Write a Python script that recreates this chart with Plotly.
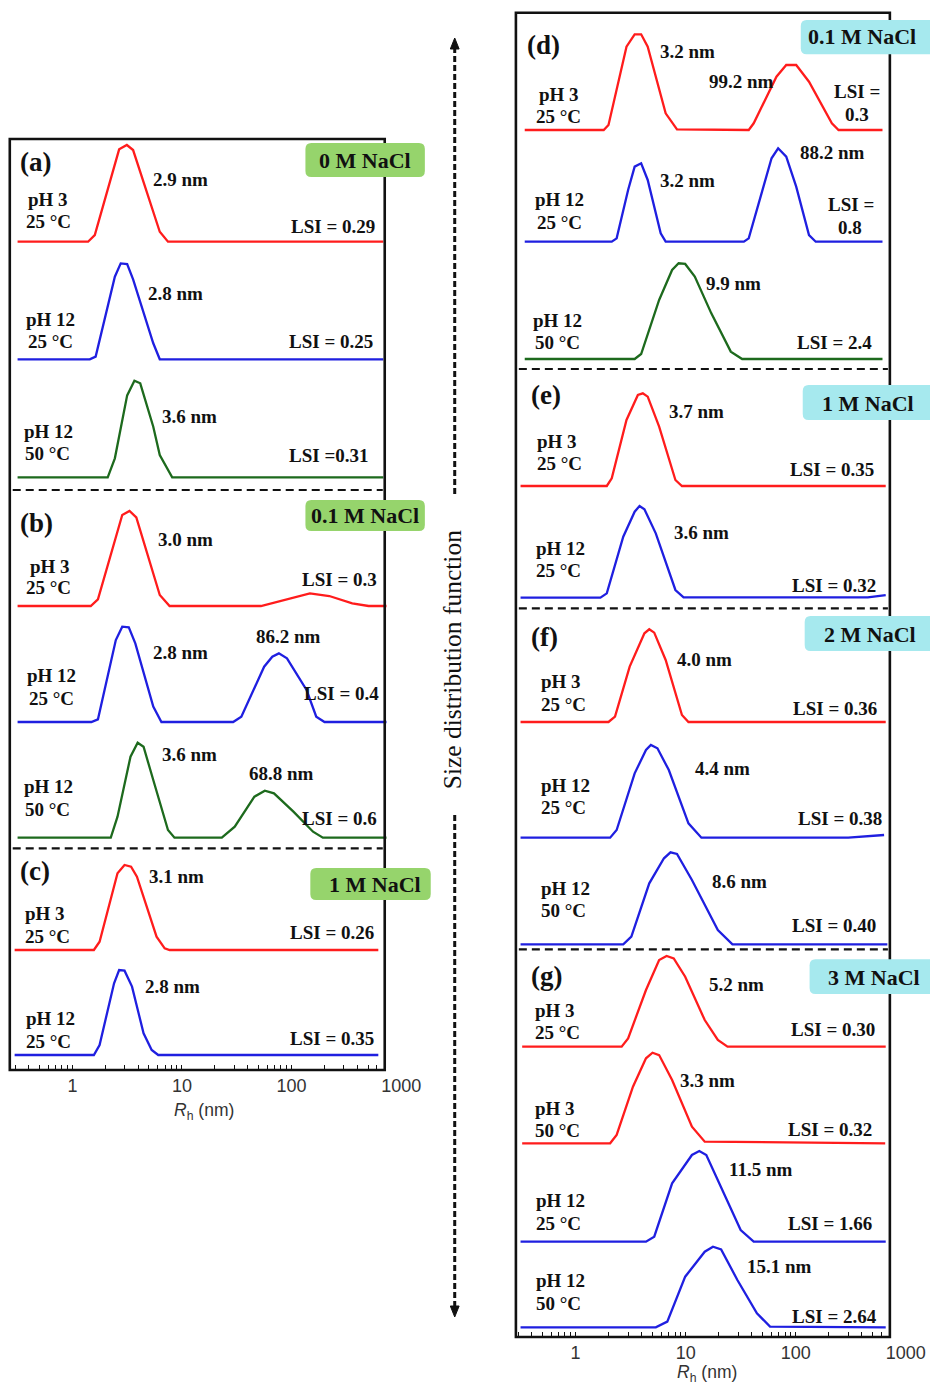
import math
import plotly.graph_objects as go

W, H = 950, 1386

# ---------------- data: hydrodynamic radius Rh (nm) and relative size distribution ----------------
# (a) 0 M NaCl
a_red_rh = [0.316, 1.39, 1.60, 2.67, 3.14, 3.58, 6.27, 7.45, 687]
a_red_y = [0, 0, 0.069, 0.955, 1, 0.948, 0.103, 0, 0]
a_blue_rh = [0.316, 1.44, 1.63, 2.44, 2.76, 3.16, 3.58, 5.47, 6.27, 687]
a_blue_y = [0, 0, 0.028, 0.855, 0.993, 0.986, 0.828, 0.166, 0, 0]
a_green_rh = [0.316, 2.10, 2.44, 3.16, 3.68, 4.16, 5.47, 6.27, 8.14, 687]
a_green_y = [0, 0, 0.195, 0.842, 0.993, 0.966, 0.52, 0.229, 0, 0]
# (b) 0.1 M NaCl
b_red_rh = [0.316, 1.47, 1.71, 2.85, 3.32, 3.83, 6.27, 7.71, 52.5, 84.8, 147, 221, 358, 504, 735]
b_red_y = [0, 0, 0.070, 0.958, 1, 0.933, 0.116, 0, 0, 0.063, 0.133, 0.105, 0.028, 0, 0]
b_blue_rh = [0.316, 1.49, 1.71, 2.49, 2.85, 3.27, 3.75, 5.47, 6.49, 29.3, 34.8, 56.2, 66.7, 76.6, 90.8, 137, 168, 200, 735]
b_blue_y = [0, 0, 0.028, 0.860, 1, 0.993, 0.825, 0.161, 0, 0, 0.056, 0.580, 0.685, 0.720, 0.668, 0.336, 0.056, 0, 0]
b_green_rh = [0.316, 2.24, 2.58, 3.39, 3.94, 4.46, 5.47, 7.45, 8.54, 23.1, 30.3, 45.8, 57.0, 69.1, 104, 157, 193, 735]
b_green_y = [0, 0, 0.221, 0.853, 1, 0.958, 0.607, 0.081, 0, 0, 0.116, 0.432, 0.495, 0.467, 0.274, 0.063, 0, 0]
# (c) 1 M NaCl
c_red_rh = [0.297, 1.57, 1.77, 2.58, 2.99, 3.43, 3.88, 5.86, 6.95, 7.71, 619]
c_red_y = [0, 0, 0.098, 0.902, 1, 0.98, 0.863, 0.157, 0.02, 0, 0]
c_blue_rh = [0.297, 1.57, 1.77, 2.40, 2.67, 2.99, 3.50, 4.46, 5.29, 6.07, 619]
c_blue_y = [0, 0, 0.117, 0.837, 0.992, 0.984, 0.798, 0.253, 0.058, 0, 0]
# (d) 0.1 M NaCl
d_red_rh = [0.345, 1.80, 1.99, 2.90, 3.44, 3.94, 4.52, 6.58, 8.34, 37.4, 41.5, 66.8, 82.0, 101, 132, 213, 245, 614]
d_red_y = [0, 0, 0.052, 0.871, 1, 1, 0.871, 0.174, 0.007, 0, 0.07, 0.557, 0.679, 0.679, 0.505, 0.07, 0, 0]
d_blue_rh = [0.345, 2.13, 2.36, 3.00, 3.44, 3.94, 4.52, 5.93, 6.58, 33.8, 37.4, 54.5, 60.3, 69.2, 82.0, 101, 132, 152, 614]
d_blue_y = [0, 0, 0.036, 0.554, 0.804, 0.839, 0.661, 0.089, 0, 0, 0.036, 0.732, 0.893, 1, 0.911, 0.589, 0.071, 0, 0]
d_green_rh = [0.345, 3.44, 3.94, 5.74, 7.53, 8.63, 9.90, 12.1, 17.1, 25.7, 32.6, 614]
d_green_y = [0, 0, 0.052, 0.617, 0.930, 1, 0.993, 0.861, 0.477, 0.077, 0, 0]
# (e) 1 M NaCl
e_red_rh = [0.316, 1.92, 2.13, 2.90, 3.68, 4.08, 4.52, 5.74, 8.07, 9.25, 657]
e_red_y = [0, 0, 0.083, 0.712, 0.982, 1, 0.964, 0.640, 0.065, 0, 0]
e_blue_rh = [0.316, 1.68, 1.92, 2.71, 3.44, 3.81, 4.22, 5.35, 8.07, 9.57, 452, 657]
e_blue_y = [0, 0, 0.047, 0.665, 0.938, 1, 0.964, 0.702, 0.084, 0.004, 0.004, 0.029]
# (f) 2 M NaCl
f_red_rh = [0.316, 1.99, 2.28, 3.10, 4.22, 4.67, 5.18, 6.58, 9.25, 10.6, 657]
f_red_y = [0, 0, 0.058, 0.597, 0.957, 1, 0.964, 0.669, 0.076, 0, 0]
f_blue25_rh = [0.316, 2.06, 2.36, 3.44, 4.36, 4.83, 5.54, 7.03, 10.6, 13.9, 300, 635]
f_blue25_y = [0, 0, 0.083, 0.694, 0.946, 1, 0.964, 0.730, 0.155, 0, 0, 0.029]
f_blue50_rh = [0.316, 2.71, 3.21, 4.67, 6.35, 7.28, 8.34, 11.4, 19.6, 26.6, 680]
f_blue50_y = [0, 0, 0.083, 0.663, 0.935, 1, 0.982, 0.699, 0.156, 0, 0]
# (g) 3 M NaCl
g_red25_rh = [0.327, 2.62, 3.00, 4.36, 5.74, 6.71, 7.79, 9.90, 14.9, 19.6, 24.0, 657]
g_red25_y = [0, 0, 0.092, 0.625, 0.956, 1, 0.974, 0.772, 0.294, 0.074, 0, 0]
g_red50_rh = [0.327, 2.06, 2.36, 3.32, 4.36, 5.00, 5.74, 7.53, 11.4, 14.9, 650]
g_red50_y = [0, 0, 0.092, 0.625, 0.938, 1, 0.974, 0.699, 0.184, 0.018, 0]
g_blue25_rh = [0.316, 4.36, 5.18, 7.53, 11.4, 13.3, 15.4, 21.0, 31.6, 41.5, 657]
g_blue25_y = [0, 0, 0.055, 0.643, 0.956, 1, 0.956, 0.607, 0.129, 0, 0]
g_blue50_rh = [0.316, 5.35, 6.81, 9.90, 14.9, 17.7, 21.0, 29.5, 44.4, 58.4, 657]
g_blue50_y = [0, 0, 0.070, 0.628, 0.938, 1, 0.967, 0.587, 0.174, 0.008, 0]

major_ticks = [1, 10, 100, 1000]
major_labels = ["1", "10", "100", "1000"]
minor_left = [0.3, 0.4, 0.5, 0.6, 0.7, 0.8, 0.9, 1, 2, 3, 4, 5, 6, 7, 8, 9, 10,
              20, 30, 40, 50, 60, 70, 80, 90, 100, 200, 300, 400, 500, 600]
minor_right = minor_left

salt_labels = ["0 M NaCl", "0.1 M NaCl", "1 M NaCl", "0.1 M NaCl", "1 M NaCl", "2 M NaCl", "3 M NaCl"]

RED, BLUE, GREEN = "#ff1c1c", "#1f1fe0", "#1d6a1d"

def px(x):
    return x / W

def py(y):
    return 1 - y / H

# (rh, y, panel, color, baseline px, peak-top px)
curves = [
    (a_red_rh, a_red_y, 0, RED, 241.7, 145.0),
    (a_blue_rh, a_blue_y, 0, BLUE, 359.3, 262.7),
    (a_green_rh, a_green_y, 0, GREEN, 477.3, 380.0),
    (b_red_rh, b_red_y, 0, RED, 606.0, 511.0),
    (b_blue_rh, b_blue_y, 0, BLUE, 722.0, 626.7),
    (b_green_rh, b_green_y, 0, GREEN, 837.7, 742.7),
    (c_red_rh, c_red_y, 0, RED, 950.0, 865.0),
    (c_blue_rh, c_blue_y, 0, BLUE, 1055.0, 969.3),
    (d_red_rh, d_red_y, 1, RED, 130.0, 34.3),
    (d_blue_rh, d_blue_y, 1, BLUE, 241.7, 148.3),
    (d_green_rh, d_green_y, 1, GREEN, 359.0, 263.3),
    (e_red_rh, e_red_y, 1, RED, 486.0, 393.3),
    (e_blue_rh, e_blue_y, 1, BLUE, 597.7, 506.0),
    (f_red_rh, f_red_y, 1, RED, 722.0, 629.3),
    (f_blue25_rh, f_blue25_y, 1, BLUE, 837.7, 745.0),
    (f_blue50_rh, f_blue50_y, 1, BLUE, 944.3, 852.3),
    (g_red25_rh, g_red25_y, 1, RED, 1046.7, 956.0),
    (g_red50_rh, g_red50_y, 1, RED, 1143.3, 1052.7),
    (g_blue25_rh, g_blue25_y, 1, BLUE, 1241.7, 1151.0),
    (g_blue50_rh, g_blue50_y, 1, BLUE, 1327.3, 1246.7),
]

fig = go.Figure()
axes = {}
pad = 0.12
for i, (rh, val, panel, color, base, top) in enumerate(curves, start=1):
    yname = "y" if i == 1 else f"y{i}"
    key = "yaxis" if i == 1 else f"yaxis{i}"
    xname = "x" if panel == 0 else "x2"
    h = base - top
    axes[key] = dict(domain=[py(base + pad * h), py(top - pad * h)], range=[-pad, 1 + pad],
                     visible=False, fixedrange=True, anchor=xname)
    fig.add_trace(go.Scatter(x=rh, y=val, xaxis=xname, yaxis=yname, mode="lines",
                             line=dict(color=color, width=2.3), hoverinfo="skip", showlegend=False))

tickfont = dict(family="Liberation Sans, Arial", size=18, color="#333")

def xaxis_cfg(x0px, x1px, lo, pos_px, minor_vals):
    return dict(type="log", domain=[px(x0px), px(x1px)], range=[lo, 3.002], anchor="free",
                position=py(pos_px), showgrid=False, zeroline=False, showline=False,
                ticks="", tickmode="array", tickvals=major_ticks, ticktext=major_labels,
                tickfont=tickfont, ticklabelstandoff=3, fixedrange=True,
                minor=dict(tickmode="array", tickvals=minor_vals, ticks="inside",
                           ticklen=5, tickwidth=1.4, tickcolor="#111", showgrid=False))

axes["xaxis"] = xaxis_cfg(10, 410, math.log10(0.2683), 1070, minor_left)
axes["xaxis2"] = xaxis_cfg(527, 925.5, math.log10(0.2868), 1337, minor_right)

fig.update_layout(height=H, autosize=True, margin=dict(l=0, r=0, t=0, b=0),
                  plot_bgcolor="rgba(0,0,0,0)", paper_bgcolor="white", showlegend=False, **axes)

shapes = []

def line(x0, y0, x1, y1, color="#111", width=2.5, dash="solid"):
    shapes.append(dict(type="line", xref="paper", yref="paper", x0=px(x0), y0=py(y0),
                       x1=px(x1), y1=py(y1), line=dict(color=color, width=width, dash=dash),
                       layer="above"))

# frames
for (x0, y0, x1, y1) in [(10, 139, 393, 1070), (527, 12.7, 909, 1337)]:
    shapes.append(dict(type="rect", xref="paper", yref="paper", x0=px(x0), y0=py(y0),
                       x1=px(x1), y1=py(y1), line=dict(color="#111", width=2.6),
                       fillcolor="rgba(0,0,0,0)", layer="above"))

# dashed separators
for y in [490, 848.3]:
    line(13, y, 391, y, width=2.2, dash="8px,5px")
for y in [369, 608.3, 949.3]:
    line(530, y, 907, y, width=2.2, dash="8px,5px")

# central double arrow
line(464.5, 47, 464.5, 495, width=3, dash="6px,3px")
line(464.5, 815, 464.5, 1308, width=3, dash="6px,3px")

def tri(pts):
    d = "M " + " L ".join(f"{px(x)},{py(y)}" for x, y in pts) + " Z"
    shapes.append(dict(type="path", xref="paper", yref="paper", path=d,
                       fillcolor="#111", line=dict(color="#111", width=1), layer="above"))

tri([(464.5, 38), (460, 49), (469, 49)])
tri([(464.5, 1317), (460, 1306), (469, 1306)])

# rounded label boxes (boxes that run off the right edge are cut square at the edge)
def rbox(x0, y0, x1, y1, color, r=6):
    if x1 >= W:
        x1 = W
        d = (f"M {px(x0 + r)},{py(y0)} L {px(x1)},{py(y0)} L {px(x1)},{py(y1)} "
             f"L {px(x0 + r)},{py(y1)} Q {px(x0)},{py(y1)} {px(x0)},{py(y1 - r)} "
             f"L {px(x0)},{py(y0 + r)} Q {px(x0)},{py(y0)} {px(x0 + r)},{py(y0)} Z")
    else:
        d = (f"M {px(x0 + r)},{py(y0)} L {px(x1 - r)},{py(y0)} Q {px(x1)},{py(y0)} {px(x1)},{py(y0 + r)} "
             f"L {px(x1)},{py(y1 - r)} Q {px(x1)},{py(y1)} {px(x1 - r)},{py(y1)} "
             f"L {px(x0 + r)},{py(y1)} Q {px(x0)},{py(y1)} {px(x0)},{py(y1 - r)} "
             f"L {px(x0)},{py(y0 + r)} Q {px(x0)},{py(y0)} {px(x0 + r)},{py(y0)} Z")
    shapes.append(dict(type="path", xref="paper", yref="paper", path=d, fillcolor=color,
                       line=dict(width=0), layer="above"))

GBOX, CBOX = "#96d46c", "#a6e9ee"
boxes = [
    (312, 143, 434, 177, GBOX, 373, 160),
    (312, 500, 434, 531, GBOX, 373, 515.5),
    (317, 868, 440, 900, GBOX, 383.5, 884),
    (818, 20, 960, 54.3, CBOX, 881, 37),
    (820, 385, 960, 420, CBOX, 886.5, 403),
    (822, 616, 960, 651, CBOX, 889, 634),
    (827, 959.3, 960, 994, CBOX, 893, 977.5),
]
annotations = []
SERIF = "Liberation Serif, Times New Roman, serif"

def text(t, x, y, anchor="left", size=19, bold=True, family=SERIF, color="#111", angle=0):
    annotations.append(dict(text=(f"<b>{t}</b>" if bold else t), x=px(x), y=py(y), xref="paper",
                            yref="paper", xanchor=anchor, yanchor="middle", showarrow=False,
                            font=dict(family=family, size=size, color=color), textangle=angle))

for (x0, y0, x1, y1, col, tx, ty), lab in zip(boxes, salt_labels):
    rbox(x0, y0, x1, y1, col)
    text(lab, tx, ty, anchor="center", size=22)

# panel letters
for t, x, y in [("(a)", 18.3, 161.7), ("(b)", 18.3, 523.3), ("(c)", 18.3, 870.7),
                ("(d)", 536.7, 45), ("(e)", 540.7, 395), ("(f)", 540.7, 637.3), ("(g)", 540.7, 976)]:
    text(t, x, y, size=27)

# condition labels (left aligned)
cond = [
    ("pH 3", 27, 200), ("25 °C", 25, 221.7), ("pH 12", 25, 319.3), ("25 °C", 26.7, 341.7),
    ("pH 12", 22.7, 431.7), ("50 °C", 24, 453.3),
    ("pH 3", 28.3, 566), ("25 °C", 25, 587.3), ("pH 12", 25.7, 675), ("25 °C", 27.3, 698.3),
    ("pH 12", 22.7, 786.7), ("50 °C", 24, 809.3),
    ("pH 3", 24, 913.3), ("25 °C", 23.3, 936), ("pH 12", 25, 1018.3), ("25 °C", 25, 1041),
    ("pH 3", 548.3, 94.3), ("25 °C", 545, 116.7), ("pH 12", 544, 200), ("25 °C", 546, 222.7),
    ("pH 12", 542.7, 320), ("50 °C", 544, 342.7),
    ("pH 3", 546.7, 441.7), ("25 °C", 546.7, 463.3), ("pH 12", 545, 548.3), ("25 °C", 545, 570.7),
    ("pH 3", 550.7, 681.7), ("25 °C", 550.7, 704), ("pH 12", 550.7, 785), ("25 °C", 550.7, 807.3),
    ("pH 12", 550.7, 888.3), ("50 °C", 550.7, 910.7),
    ("pH 3", 544, 1010.7), ("25 °C", 544, 1032.7), ("pH 3", 544, 1108.3), ("50 °C", 544, 1130.7),
    ("pH 12", 545, 1200.7), ("25 °C", 545, 1223.3), ("pH 12", 545, 1280.7), ("50 °C", 545, 1303.3),
]
for t, x, y in cond:
    text(t, x, y)

# peak size labels
peaks = [
    ("2.9 nm", 154, 179.3), ("2.8 nm", 149.3, 293.3), ("3.6 nm", 163.3, 416.7),
    ("3.0 nm", 159.3, 539.3), ("2.8 nm", 154, 652.7), ("86.2 nm", 259.3, 636.7),
    ("3.6 nm", 163.3, 754), ("68.8 nm", 252.7, 773.3),
    ("3.1 nm", 150, 876), ("2.8 nm", 145.7, 986.7),
    ("3.2 nm", 671.7, 51.7), ("99.2 nm", 721.7, 81.7), ("3.2 nm", 671.7, 180), ("88.2 nm", 815, 152.7),
    ("9.9 nm", 719.3, 283.3),
    ("3.7 nm", 681, 411.7), ("3.6 nm", 686, 532.3),
    ("4.0 nm", 689.3, 659.3), ("4.4 nm", 708.3, 768.3), ("8.6 nm", 725.7, 881.7),
    ("5.2 nm", 722.7, 984.3), ("3.3 nm", 692.3, 1080), ("11.5 nm", 742.7, 1169.3), ("15.1 nm", 760.7, 1266.7),
]
for t, x, y in peaks:
    text(t, x, y)

# LSI labels (right aligned)
lsi = [
    ("LSI = 0.29", 385, 226), ("LSI = 0.25", 383.3, 341.7), ("LSI =0.31", 378.3, 456),
    ("LSI = 0.3", 386.7, 579.3), ("LSI = 0.4", 389.3, 693.3), ("LSI = 0.6", 386.7, 818.3),
    ("LSI = 0.26", 384, 932.7), ("LSI = 0.35", 384, 1038.3),
    ("LSI = 2.4", 893.3, 342.7),
    ("LSI = 0.35", 895, 469.3), ("LSI = 0.32", 896.7, 585.7),
    ("LSI = 0.36", 897.7, 708.3), ("LSI = 0.38", 903.3, 818.3), ("LSI = 0.40", 896.7, 925.7),
    ("LSI = 0.30", 895.7, 1029), ("LSI = 0.32", 892.7, 1129.3), ("LSI = 1.66", 892.7, 1223.3),
    ("LSI = 2.64", 898.3, 1316),
]
for t, x, y in lsi:
    text(t, x, y, anchor="right")
for t, x, y in [("LSI =", 875, 91.7), ("0.3", 875, 115), ("LSI =", 869, 204), ("0.8", 868.3, 227.7)]:
    text(t, x, y, anchor="center")

# axis titles
for x, y in [(208, 1111.7), (722, 1373)]:
    text("<i>R</i><sub>h</sub> (nm)", x, y, anchor="center", size=17.5, bold=False,
         family="Liberation Sans, Arial", color="#333")

# vertical label
text("Size distribution function", 462, 660, anchor="center", size=25.5, bold=False, angle=-90)

fig.update_layout(shapes=shapes, annotations=annotations)

# fill the whole window width (no body margin, no scrollbars)
post = ("document.body.style.margin='0';"
        "document.documentElement.style.overflow='hidden';"
        "document.body.style.overflow='hidden';"
        "var gd=document.getElementById('{plot_id}');"
        "var ww=Math.max(window.innerWidth||0,document.documentElement.clientWidth||0);"
        "gd.style.width=ww+'px';"
        "Plotly.relayout(gd,{width:ww,height:" + str(H) + "});")
fig.write_html("out.html", config={"responsive": False, "displayModeBar": False},
               default_width="100%", default_height=str(H) + "px", post_script=post)
